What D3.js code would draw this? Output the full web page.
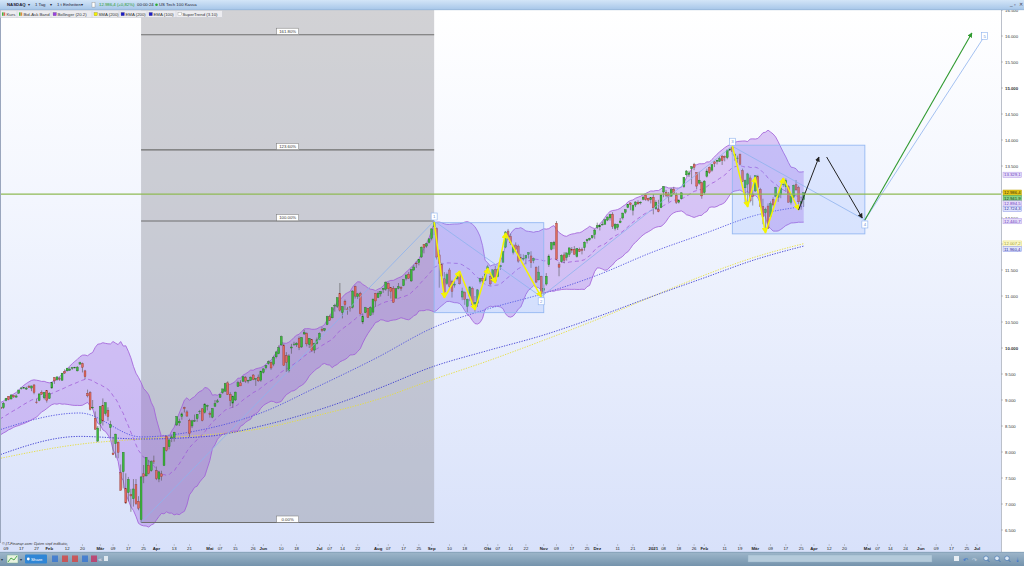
<!DOCTYPE html>
<html><head><meta charset="utf-8">
<script src="https://cdn.jsdelivr.net/npm/d3@7/dist/d3.min.js"></script>
<style>html,body{margin:0;padding:0;background:#fff;overflow:hidden}svg{display:block;font-family:"Liberation Sans",Arial,sans-serif}</style>
</head><body><svg id="c" width="1024" height="566"></svg>
<script>
// ================= DATA =================
const startDate = "2020-01-02";
const endDate = "2021-07-30";
const closedDays = ["2020-01-01","2020-04-10","2020-12-25","2021-01-01","2021-04-02"];
// closes Dec 3-31 2019 (for the 20-day Bollinger window)
const preCloses = [8255,8303,8313,8397,8369,8381,8412,8462,8494,8575,8571,8572,8632,8678,8700,8700,8780,8770,8709,8733];
// daily candles [open, high, low, close] from 2020-01-02 to 2021-03-26
const ohlc = [
// Jan 2020
[8800,8873,8788,8872],[8762,8830,8758,8793],[8747,8849,8738,8848],[8853,8873,8828,8846],[8850,8960,8830,8935],[8990,9040,8975,9030],[9070,9075,8995,9006],[9020,9098,9010,9098],[9085,9100,9040,9059],[9055,9110,9050,9078],[9130,9193,9120,9192],[9220,9235,9200,9233],[9233,9250,9215,9240],[9210,9255,9195,9230],[9260,9290,9235,9242],[9230,9275,9170,9270],[9290,9300,9110,9145],[8960,9020,8930,8953],[8990,9130,8975,9116],[9150,9185,9100,9111],[9040,9150,9010,9146],[9180,9190,8950,8991],
// Feb
[9030,9150,9020,9126],[9230,9340,9220,9335],[9430,9440,9310,9368],[9390,9446,9370,9445],[9410,9440,9370,9401],[9380,9517,9370,9517],[9550,9590,9500,9518],[9560,9615,9550,9613],[9570,9630,9560,9595],[9610,9630,9580,9623],[9623,9640,9600,9630],[9560,9650,9550,9633],[9690,9736,9680,9718],[9700,9720,9530,9629],[9560,9580,9400,9447],[9130,9200,9050,9079],[9140,9170,8800,8822],[8860,9000,8820,8860],[8650,8780,8430,8436],[8210,8500,8190,8461],
// Mar
[8550,8880,8400,8877],[8900,9030,8510,8596],[8740,8950,8700,8950],[8800,8860,8600,8681],[8470,8600,8290,8530],[7980,8290,7940,7948],[8160,8350,7890,8344],[8190,8200,7880,7993],[7600,7760,7260,7262],[7620,7995,7300,7995],[7300,7590,7000,7020],[7220,7520,7050,7472],[7180,7290,6850,7155],[7100,7480,6950,7289],[7370,7480,6980,7006],[7050,7150,6880,6920],[6700,7540,6644,7520],[7580,7750,7400,7528],[7540,7900,7530,7897],[7740,7850,7570,7589],[7640,7840,7620,7814],[7830,7930,7770,7813],
// Apr
[7640,7720,7460,7487],[7480,7640,7420,7617],[7580,7640,7450,7528],[7740,8090,7730,8081],[8300,8320,8010,8029],[8100,8240,8050,8233],[8270,8330,8190,8291],[8280,8390,8200,8381],[8520,8690,8500,8680],[8560,8640,8500,8592],[8680,8760,8620,8733],[8850,8870,8760,8833],[8770,8800,8680,8691],[8610,8640,8290,8354],[8500,8620,8460,8599],[8600,8720,8580,8602],[8640,8730,8580,8725],[8780,8810,8730,8785],[8830,8840,8590,8605],[8760,8940,8740,8921],[8890,8910,8800,8890],
// May
[8740,8780,8660,8719],[8670,8840,8650,8834],[8880,9000,8870,8930],[8960,9020,8950,8984],[9050,9110,9040,9101],[9140,9215,9120,9213],[9170,9330,9160,9317],[9330,9360,9100,9104],[9110,9150,8880,8986],[8940,9080,8850,9075],[9000,9160,8980,9152],[9260,9370,9250,9331],[9330,9380,9270,9271],[9360,9450,9350,9446],[9430,9460,9330,9363],[9370,9390,9320,9376],[9376,9450,9370,9440],[9480,9500,9380,9392],[9400,9420,9270,9412],[9440,9490,9350,9368],[9380,9560,9350,9556],
// Jun
[9530,9610,9510,9598],[9620,9665,9590,9664],[9700,9760,9680,9735],[9720,9740,9580,9616],[9690,9850,9650,9824],[9830,9925,9800,9925],[9890,10050,9880,10007],[10060,10240,10040,10220],[10050,10080,9660,9662],[9850,9920,9540,9725],[9560,9880,9530,9847],[10000,10080,9890,10019],[10070,10120,10040,10075],[10060,10110,10020,10094],[10180,10220,9960,10009],[10020,10210,10000,10200],[10270,10350,10250,10298],[10280,10300,10030,10079],[10070,10190,10000,10185],[10160,10170,9930,9950],[9960,10100,9900,10093],[10090,10200,10070,10156],
// Jul
[10160,10300,10150,10279],[10360,10400,10310,10341],[10341,10380,10320,10370],[10450,10620,10440,10605],[10600,10640,10520,10534],[10580,10780,10570,10774],[10810,10850,10700,10818],[10800,10970,10770,10968],[11050,11250,10700,10725],[10680,10800,10570,10796],[10900,10930,10730,10834],[10750,10790,10640,10741],[10790,10800,10700,10768],[10780,11110,10760,11095],[11180,11200,10950,10998],[10990,11060,10940,11041],[11050,11080,10640,10658],[10500,10660,10460,10605],[10680,10790,10670,10774],[10760,10770,10580,10588],[10630,10800,10620,10773],[10690,10950,10640,10940],[11050,11060,10790,10905],
// Aug
[10970,11090,10960,11055],[11040,11090,10990,11085],[11130,11150,11060,11146],[11130,11280,11100,11267],[11240,11260,11000,11139],[11160,11170,10950,11083],[11150,11190,10870,10880],[10960,11150,10950,11138],[11150,11250,11130,11178],[11160,11190,11100,11149],[11200,11320,11190,11315],[11340,11410,11300,11404],[11420,11460,11330,11341],[11290,11520,11270,11505],[11500,11600,11480,11558],[11630,11660,11540,11625],[11640,11710,11590,11708],[11750,11950,11730,11940],[11990,12000,11820,11937],[11960,12020,11930,12004],[12030,12110,12010,12098],
// Sep
[12110,12300,12070,12290],[12330,12442,12170,12420],[12300,12320,11700,11749],[11790,11890,11160,11628],[11600,11640,11330,11380],[11330,11460,10970,11068],[11240,11450,11210,11410],[11500,11540,11150,11188],[11280,11310,10970,11087],[11210,11290,11160,11230],[11330,11440,11300,11386],[11450,11480,11220,11234],[10980,11160,10920,11095],[11070,11090,10830,10936],[10800,10950,10680,10934],[10990,11180,10900,11176],[11150,11180,10810,10834],[10770,11000,10700,10876],[10860,11130,10790,11118],[11280,11350,11240,11335],[11340,11380,11250,11290],[11300,11500,11290,11418],
// Oct
[11520,11600,11470,11560],[11380,11450,11200,11231],[11290,11510,11280,11503],[11510,11580,11260,11277],[11370,11530,11360,11517],[11560,11600,11500,11585],[11650,11860,11640,11852],[11940,12250,11920,12231],[12250,12290,12080,12141],[12150,12200,11980,12022],[11840,11990,11800,11946],[11980,12030,11890,11895],[11960,11990,11640,11671],[11740,11810,11680,11720],[11710,11800,11680,11724],[11730,11790,11610,11779],[11800,11840,11720,11835],[11770,11860,11540,11639],[11680,11740,11630,11720],[11550,11570,11250,11268],[11310,11580,11300,11460],[11380,11390,11000,11053],
// Nov
[11110,11220,11020,11145],[11230,11440,11200,11380],[11600,11800,11560,11768],[11900,12040,11880,12024],[11980,12060,11900,12033],[12400,12440,11690,11708],[11600,11650,11380,11554],[11660,11800,11640,11781],[11790,11840,11630,11688],[11740,11830,11680,11829],[11800,11930,11750,11925],[11900,11940,11830,11876],[11900,11960,11800,11802],[11760,11920,11740,11913],[11900,11930,11850,11855],[11890,11930,11800,11885],[11930,12050,11870,12035],[12060,12100,12010,12082],[12082,12120,12060,12110],[12120,12170,12100,12158],[12180,12290,12100,12268],
// Dec
[12320,12410,12290,12355],[12330,12370,12260,12355],[12370,12430,12360,12377],[12380,12470,12370,12465],[12460,12530,12440,12519],[12500,12580,12450,12566],[12570,12610,12290,12339],[12300,12400,12260,12377],[12320,12390,12270,12376],[12410,12500,12400,12441],[12500,12600,12470,12595],[12610,12670,12580,12658],[12700,12770,12690,12764],[12790,12800,12650,12755],[12650,12760,12550,12742],[12750,12820,12710,12808],[12800,12840,12760,12771],[12790,12820,12760,12805],[12860,12930,12840,12900],[12940,12960,12830,12850],[12880,12890,12820,12845],[12850,12900,12780,12888],
// Jan 2021
[12900,12960,12570,12694],[12680,12840,12660,12802],[12660,12850,12610,12624],[12700,12960,12690,12940],[13000,13110,12900,13105],[12990,13040,12900,12939],[12950,13000,12810,12913],[12920,13080,12910,13043],[13050,13100,12960,12974],[12930,12990,12770,12804],[12804,12860,12780,12840],[12870,12990,12860,12984],[13100,13290,13080,13280],[13330,13420,13300,13404],[13340,13410,13290,13366],[13450,13500,13150,13485],[13530,13560,13420,13475],[13370,13380,13050,13114],[13170,13390,13140,13228],[13180,13200,12870,12925],
// Feb 2021
[12990,13230,12950,13209],[13300,13450,13280,13404],[13470,13490,13350,13373],[13420,13530,13390,13526],[13580,13590,13480,13543],[13590,13620,13530,13612],[13590,13680,13580,13639],[13690,13710,13520,13602],[13680,13700,13590,13679],[13660,13810,13630,13807],[13807,13850,13790,13830],[13850,13880,13720,13776],[13690,13740,13600,13728],[13650,13700,13560,13653],[13720,13740,13510,13535],[13410,13450,13190,13196],[13080,13240,12780,13223],[13150,13370,12710,13348],[13270,13320,12800,12828],[12960,13040,12740,12910],
// Mar 2021
[13020,13320,13000,13315],[13300,13330,13070,13084],[13050,13080,12710,12720],[12720,12870,12380,12523],[12600,12700,12210,12668],[12730,12780,12290,12299],[12530,12820,12500,12773],[12860,12900,12720,12751],[12920,13100,12900,13085],[12900,12950,12810,12935],[12950,13090,12880,13079],[13150,13270,13100,13152],[13100,13260,13000,13224],[13100,13130,12800,12802],[12800,12950,12760,12911],[12900,13140,12880,13130],[13140,13230,13020,13041],[13090,13120,12650,12811],[12780,12900,12660,12813],[12850,12990,12720,12986]
];
// moving averages (sparse)
const maDates = ["2020-01-02","2020-02-19","2020-03-24","2020-04-30","2020-05-29","2020-06-30","2020-07-31","2020-09-02","2020-10-01","2020-11-02","2020-12-01","2021-01-04","2021-02-01","2021-03-01","2021-03-26"];
const ema100 = [8385,8750,8290,8450,8750,9250,9800,10400,10750,11050,11400,11850,12200,12550,12724];
const ema200 = [7900,8300,8250,8300,8500,8800,9200,9650,9950,10250,10600,11000,11350,11700,11960];
const sma200 = [7850,8150,8250,8330,8450,8700,9000,9400,9750,10150,10550,11000,11400,11750,12007];
// Fibonacci extension
const fibLowDate = "2020-03-24", fibLow = 6644, fibHighDate = "2020-09-02", fibHigh = 12442;
const fibLevels = [0, 1, 1.236, 1.618];
const fibLabels = ["0.00%","100.00%","123.60%","161.80%"];
// wave count points
const waveDates = ["2020-03-24","2020-09-02","2020-10-30","2021-02-16","2021-04-30","2021-07-06"];
const wavePrices = [6644,12442,10985,13880,12462,16000];
const waveLabels = ["","1","2","3","4","5"];
const waveLabelPos = ["","above","below","above","below","center"];
// rectangles
const boxStart = ["2020-09-02","2021-02-16"], boxEnd = ["2020-11-02","2021-04-30"];
const boxTop = [12410,13900], boxBottom = [10680,12195];
// yellow zigzags
const zigADates = ["2020-09-02","2020-09-08","2020-09-16","2020-09-24","2020-10-01","2020-10-06","2020-10-12","2020-10-30"];
const zigAPrices = [12420,10962,11481,10731,11538,11250,12212,10981];
const zigBDates = ["2021-02-16","2021-02-24","2021-03-01","2021-03-05","2021-03-16","2021-03-24"];
const zigBPrices = [13885,12711,13288,12211,13269,12654];
// projected arrows
const blackArrowDates = [["2021-03-24","2021-04-06"],["2021-04-09","2021-04-29"]];
const blackArrowPrices = [[12654,13673],[13673,12500]];
const greenArrowDates = ["2021-04-30","2021-06-29"], greenArrowPrices = [12462,16058];
const bidAsk = 12960;
// right-side value labels
const rightLabelValues = [13329.1,12986.4,12941.9,12894.5,12724.3,12440.7,12007.2,11960.4];
const rightLabelKinds = ["bb","kurs","bid","bb","ema","bb","sma","ema"];
// axis ticks
const yTicks = [6500,7000,7500,8000,8500,9000,9500,10000,10500,11000,11500,12000,12500,13000,13500,14000,14500,15000,15500,16000,16500];
const yBold = [10000,15000];
const xTickDates = ["2020-01-09","2020-01-17","2020-01-27","2020-02-03","2020-02-12","2020-02-20","2020-03-02","2020-03-09","2020-03-17","2020-03-25","2020-04-01","2020-04-13","2020-04-21","2020-05-01","2020-05-07","2020-05-15","2020-05-26","2020-06-01","2020-06-10","2020-06-18","2020-07-01","2020-07-07","2020-07-14","2020-07-22","2020-08-03","2020-08-07","2020-08-17","2020-08-25","2020-09-01","2020-09-10","2020-09-18","2020-10-01","2020-10-07","2020-10-14","2020-10-22","2020-11-02","2020-11-09","2020-11-17","2020-11-25","2020-12-01","2020-12-11","2020-12-21","2021-01-04","2021-01-08","2021-01-18","2021-01-26","2021-02-01","2021-02-11","2021-02-19","2021-03-01","2021-03-09","2021-03-17","2021-03-25","2021-04-01","2021-04-12","2021-04-20","2021-05-03","2021-05-07","2021-05-14","2021-05-24","2021-06-01","2021-06-09","2021-06-17","2021-06-25","2021-07-01"];
const xTickLabels = ["09","17","27","Feb","12","20","Mär","09","17","25","Apr","13","21","Mai","07","15","26","Jun","10","18","Jul","07","14","22","Aug","07","17","25","Sep","10","18","Okt","07","14","22","Nov","09","17","25","Dez","11","21","2021","08","18","26","Feb","11","19","Mär","09","17","25","Apr","12","20","Mai","07","14","24","Jun","09","17","25","Jul"];
const legendNames = ["Kurs","Bid-Ask Band","Bollinger (20.2)","SMA (200)","EMA (200)","EMA (100)","SuperTrend (3.10)"];

// ================= BUILD =================
const parse = d3.utcParse("%Y-%m-%d"), fmtD = d3.utcFormat("%Y-%m-%d");
const calendar = d3.utcDay.range(parse(startDate), d3.utcDay.offset(parse(endDate),1))
  .filter(d => d.getUTCDay()>0 && d.getUTCDay()<6 && !closedDays.includes(fmtD(d))).map(fmtD);
const idxOf = new Map(calendar.map((s,i)=>[s,i]));
const I = s => idxOf.get(s);

const svg = d3.select("#c");
const P = {l:0, r:1001, t:10, b:543};
const x = d3.scaleLinear().domain([I("2020-01-09"), I("2021-07-01")]).range([6, 977]);
const y = d3.scaleLinear().domain([6500,16500]).range([530,10]);
const de = d3.formatLocale({decimal:",", thousands:".", grouping:[3], currency:["","€"]});
const fTick = de.format(",.0f"), fVal = de.format(",.1f");
const FS = 4.3;

const defs = svg.append("defs");
const bgG = defs.append("linearGradient").attr("id","bg").attr("x1",0).attr("y1",0).attr("x2",0).attr("y2",1);
bgG.append("stop").attr("offset","0").attr("stop-color","#ffffff");
bgG.append("stop").attr("offset","0.35").attr("stop-color","#f3f6fe");
bgG.append("stop").attr("offset","1").attr("stop-color","#d8e1fa");
const tbG = defs.append("linearGradient").attr("id","tb").attr("x1",0).attr("y1",0).attr("x2",0).attr("y2",1);
tbG.append("stop").attr("offset","0").attr("stop-color","#d3e5f7");
tbG.append("stop").attr("offset","1").attr("stop-color","#a5c5e8");
const btG = defs.append("linearGradient").attr("id","bt").attr("x1",0).attr("y1",0).attr("x2",0).attr("y2",1);
btG.append("stop").attr("offset","0").attr("stop-color","#9fb7cb");
btG.append("stop").attr("offset","1").attr("stop-color","#7493ac");
defs.append("clipPath").attr("id","clip").append("rect").attr("x",P.l).attr("y",P.t).attr("width",P.r-P.l).attr("height",P.b-P.t);
function marker(id, color, size){
  defs.append("marker").attr("id",id).attr("viewBox","0 0 10 10").attr("refX",9).attr("refY",5)
    .attr("markerUnits","userSpaceOnUse").attr("markerWidth",size).attr("markerHeight",size).attr("orient","auto")
    .append("path").attr("d","M0,0 L10,5 L0,10 z").attr("fill",color);
}
marker("mY","#f4f400",6); marker("mK","#222222",5); marker("mG","#2f9a2f",5);

svg.append("rect").attr("width",1024).attr("height",566).attr("fill","#ffffff");
svg.append("rect").attr("x",0).attr("y",P.t).attr("width",P.r).attr("height",552-P.t).attr("fill","url(#bg)");

const plot = svg.append("g").attr("clip-path","url(#clip)");

// Fibonacci shaded zone
const fx0 = x(I(fibLowDate)), fx1 = x(I(fibHighDate));
const fibY = fibLevels.map(l => y(fibLow + l*(fibHigh-fibLow)));
plot.append("rect").attr("x",fx0).attr("y",P.t).attr("width",fx1-fx0).attr("height",fibY[0]-P.t)
  .attr("fill","rgb(130,130,138)").attr("fill-opacity",0.36);

// Bollinger bands computed from closes
const closesAll = preCloses.concat(ohlc.map(r=>r[3]));
const bb = ohlc.map((r,i)=>{
  const j = i + preCloses.length; const w = closesAll.slice(j-19, j+1);
  const m = d3.mean(w); const s = Math.sqrt(d3.mean(w, v => (v-m)*(v-m)));
  return {i, m, u:m+2*s, l:m-2*s};
});
plot.append("path").datum(bb).attr("d", d3.area().x(d=>x(d.i)).y0(d=>y(d.l)).y1(d=>y(d.u)))
  .attr("fill","rgb(150,80,225)").attr("fill-opacity",0.3);

// moving averages
const maLine = d3.line().x(d=>x(I(d[0]))).y(d=>y(d[1])).curve(d3.curveMonotoneX);
[[sma200,"#e6de3a"],[ema200,"#3a3ad0"],[ema100,"#5050e0"]].forEach(([arr,col])=>{
  plot.append("path").datum(maDates.map((d,k)=>[d,arr[k]])).attr("d",maLine)
    .attr("fill","none").attr("stroke",col).attr("stroke-width",0.9).attr("stroke-dasharray","1.3,1.3");
});

// Bollinger borders + middle
plot.append("path").datum(bb).attr("d", d3.line().x(d=>x(d.i)).y(d=>y(d.u))).attr("fill","none").attr("stroke","#a05cd8").attr("stroke-width",0.8);
plot.append("path").datum(bb).attr("d", d3.line().x(d=>x(d.i)).y(d=>y(d.l))).attr("fill","none").attr("stroke","#a05cd8").attr("stroke-width",0.8);
plot.append("path").datum(bb).attr("d", d3.line().x(d=>x(d.i)).y(d=>y(d.m))).attr("fill","none").attr("stroke","#a05cd8").attr("stroke-width",0.8).attr("stroke-dasharray","4,3");

// candles
const cg = plot.append("g");
ohlc.forEach((r,i)=>{
  const [o,h,l,c] = r; const cx = x(i); const up = c >= o;
  cg.append("line").attr("x1",cx).attr("x2",cx).attr("y1",y(h)).attr("y2",y(l)).attr("stroke","#555").attr("stroke-width",0.6);
  const top = y(Math.max(o,c)), bot = y(Math.min(o,c));
  cg.append("rect").attr("x",cx-0.95).attr("y",top).attr("width",1.9).attr("height",Math.max(0.6,bot-top))
    .attr("fill", up ? "#3cb83c" : "#e06a5e").attr("stroke", up ? "#1f6d1f" : "#8a3028").attr("stroke-width",0.35);
});

// Fibonacci lines + labels
fibY.forEach((fy,k)=>{
  plot.append("line").attr("x1",fx0).attr("x2",fx1).attr("y1",fy).attr("y2",fy).attr("stroke","#6e6e6e").attr("stroke-width",1.1);
  const cx = (fx0+fx1)/2;
  plot.append("rect").attr("x",cx-11).attr("y",fy-6.5).attr("width",22).attr("height",6.3).attr("fill","#fff").attr("stroke","#777").attr("stroke-width",0.5);
  plot.append("text").attr("x",cx).attr("y",fy-2).attr("text-anchor","middle").attr("font-size",FS).attr("fill","#333").text(fibLabels[k]);
});

// boxes
boxStart.forEach((s,k)=>{
  const x0 = x(I(s)), x1 = x(I(boxEnd[k]));
  plot.append("rect").attr("x",x0).attr("y",y(boxTop[k])).attr("width",x1-x0).attr("height",y(boxBottom[k])-y(boxTop[k]))
    .attr("fill","rgb(120,160,255)").attr("fill-opacity",0.2).attr("stroke","#95b8f2").attr("stroke-width",0.9);
});

// wave connector lines
const wp = waveDates.map((d,k)=>[x(I(d)), y(wavePrices[k])]);
plot.append("path").attr("d", d3.line()(wp)).attr("fill","none").attr("stroke","#8eb2ee").attr("stroke-width",0.8);

// zigzags
function zig(dates, prices){
  const pts = dates.map((d,k)=>[x(I(d)), y(prices[k])]);
  for (let k=1;k<pts.length;k++){
    plot.append("line").attr("x1",pts[k-1][0]).attr("y1",pts[k-1][1]).attr("x2",pts[k][0]).attr("y2",pts[k][1])
      .attr("stroke","#f4f400").attr("stroke-width",1.5).attr("marker-end","url(#mY)");
  }
}
zig(zigADates, zigAPrices); zig(zigBDates, zigBPrices);
blackArrowDates.forEach((ds,k)=>{
  plot.append("line").attr("x1",x(I(ds[0]))).attr("y1",y(blackArrowPrices[k][0])).attr("x2",x(I(ds[1]))).attr("y2",y(blackArrowPrices[k][1]))
    .attr("stroke","#222").attr("stroke-width",1).attr("marker-end","url(#mK)");
});
plot.append("line").attr("x1",x(I(greenArrowDates[0]))).attr("y1",y(greenArrowPrices[0])).attr("x2",x(I(greenArrowDates[1]))).attr("y2",y(greenArrowPrices[1]))
  .attr("stroke","#2f9a2f").attr("stroke-width",1.1).attr("marker-end","url(#mG)");

// bid-ask horizontal line
plot.append("line").attr("x1",P.l).attr("x2",P.r).attr("y1",y(bidAsk)).attr("y2",y(bidAsk)).attr("stroke","#8fba55").attr("stroke-width",1.1);

// wave labels
wp.forEach((p,k)=>{
  if (!waveLabels[k]) return;
  const pos = waveLabelPos[k];
  const cy = pos==="above" ? p[1]-4.5 : pos==="below" ? p[1]+4.5 : p[1];
  plot.append("rect").attr("x",p[0]-3).attr("y",cy-3.5).attr("width",6).attr("height",7).attr("fill","#fff").attr("stroke","#8eb2ee").attr("stroke-width",0.6);
  plot.append("text").attr("x",p[0]).attr("y",cy+1.6).attr("text-anchor","middle").attr("font-size",FS).attr("fill","#6a90d8").text(waveLabels[k]);
});

// left border
svg.append("line").attr("x1",0.5).attr("x2",0.5).attr("y1",P.t).attr("y2",P.b).attr("stroke","#9aa6bd").attr("stroke-width",1);

// right axis
svg.append("rect").attr("x",P.r).attr("y",P.t).attr("width",1024-P.r).attr("height",552-P.t).attr("fill","#ffffff");
svg.append("line").attr("x1",P.r+0.5).attr("x2",P.r+0.5).attr("y1",P.t).attr("y2",552).attr("stroke","#aab0bc").attr("stroke-width",0.8);
const styles = {
  bb:{fill:"#e6ddf9",stroke:"#b49ce8",text:"#6a3cc0"},
  kurs:{fill:"#e3c41a",stroke:"#b89c00",text:"#3a3000"},
  bid:{fill:"#86d386",stroke:"#4aa04a",text:"#143814"},
  ema:{fill:"#dfe3fb",stroke:"#8c96e6",text:"#2a2aa0"},
  sma:{fill:"#fbf8cc",stroke:"#e4dc70",text:"#a09820"}
};
const labs = rightLabelValues.map((v,k)=>({v, kind:rightLabelKinds[k], yy:y(v)})).sort((a,b)=>a.yy-b.yy);
for (let k=1;k<labs.length;k++) if (labs[k].yy < labs[k-1].yy+5.4) labs[k].yy = labs[k-1].yy+5.4;
yTicks.forEach(v=>{
  svg.append("line").attr("x1",P.r).attr("x2",P.r+2).attr("y1",y(v)).attr("y2",y(v)).attr("stroke","#888").attr("stroke-width",0.5);
  // tick labels hidden behind a value label are not shown (as in the reference)
  if (labs.some(l => Math.abs(l.yy - y(v)) < 2.7)) return;
  svg.append("text").attr("x",1005).attr("y",y(v)+1.5).attr("font-size",FS).attr("fill","#333")
    .attr("font-weight", yBold.includes(v) ? "bold" : "normal").text(fTick(v));
});
labs.forEach(l=>{
  const s = styles[l.kind];
  svg.append("rect").attr("x",1003).attr("y",l.yy-2.7).attr("width",18.5).attr("height",5.4).attr("fill",s.fill).attr("stroke",s.stroke).attr("stroke-width",0.5);
  svg.append("text").attr("x",1004).attr("y",l.yy+1.5).attr("font-size",FS).attr("fill",s.text).text(fVal(l.v));
});

// x axis
xTickDates.forEach((d,k)=>{
  const tx = x(I(d));
  svg.append("line").attr("x1",tx).attr("x2",tx).attr("y1",544).attr("y2",546).attr("stroke","#999").attr("stroke-width",0.5);
  const bold = isNaN(+xTickLabels[k]) || xTickLabels[k].length===4;
  svg.append("text").attr("x",tx).attr("y",550.3).attr("text-anchor","middle").attr("font-size",FS)
    .attr("font-weight", bold ? "bold" : "normal").attr("fill","#222").text(xTickLabels[k]);
});
svg.append("text").attr("x",2).attr("y",545).attr("font-size",3.8).attr("font-style","italic").attr("fill","#333").text("© IT-Finance.com: Daten sind indikativ");

// top toolbar
svg.append("rect").attr("x",0).attr("y",0).attr("width",1024).attr("height",10).attr("fill","url(#tb)");
const tb = svg.append("g").attr("font-size",FS).attr("fill","#223");
[["NASDAQ",7,"bold"],["▾",28,"normal"],["1 Tag",35,"normal"],["▾",50,"normal"],["1 t Einheiten",57,"normal"],["▾",81,"normal"]].forEach(([t,tx,w])=>{
  tb.append("text").attr("x",tx).attr("y",6.3).attr("font-weight",w).text(t);
});
svg.append("rect").attr("x",92).attr("y",2.3).attr("width",3).attr("height",4.8).attr("fill","#fff").attr("stroke","#888").attr("stroke-width",0.4);
svg.append("text").attr("x",99).attr("y",6.3).attr("font-size",FS).attr("fill","#2a9a2a").text("12.986,4 (+0,82%)");
svg.append("text").attr("x",137).attr("y",6.3).attr("font-size",FS).attr("fill","#223").text("00:00:24");
svg.append("circle").attr("cx",156.5).attr("cy",4.8).attr("r",1.3).attr("fill","#2eaa2e");
svg.append("text").attr("x",159).attr("y",6.3).attr("font-size",FS).attr("fill","#223").text("US Tech 100 Kassa");
[["_",1010],["▫",1014],["✕",1018.5]].forEach(([t,tx])=>svg.append("text").attr("x",tx).attr("y",6.3).attr("font-size",FS+0.5).attr("fill","#445").text(t));
svg.append("line").attr("x1",0).attr("x2",1024).attr("y1",9.75).attr("y2",9.75).attr("stroke","#8aa9cc").attr("stroke-width",0.5);

// legend row
svg.append("rect").attr("x",0.5).attr("y",10.5).attr("width",222).attr("height",7).attr("fill","#ececf0").attr("stroke","#c4c6ce").attr("stroke-width",0.5);
const legSw = [["#3cb83c","#e06a5e"],["#3cb83c","#e08a3e"],["#9b3fe0"],["#f4f000"],["#1a1ac8"],["#1a1ac8"],["#ffffff"]];
const legX = [2,19,53,94,121,149,178];
legendNames.forEach((n,k)=>{
  const sx = legX[k], cols = legSw[k];
  if (cols.length===2){
    svg.append("rect").attr("x",sx).attr("y",12.4).attr("width",1.6).attr("height",3.4).attr("fill",cols[0]);
    svg.append("rect").attr("x",sx+1.6).attr("y",12.4).attr("width",1.6).attr("height",3.4).attr("fill",cols[1]);
  } else {
    svg.append("rect").attr("x",sx).attr("y",12.4).attr("width",3.4).attr("height",3.4).attr("fill",cols[0]).attr("stroke","#777").attr("stroke-width",0.3);
  }
  svg.append("text").attr("x",sx+4.5).attr("y",15.6).attr("font-size",FS).attr("fill","#333").text(n);
  if (k>0) svg.append("line").attr("x1",sx-2).attr("x2",sx-2).attr("y1",11).attr("y2",17.5).attr("stroke","#c4c6ce").attr("stroke-width",0.4);
});

// bottom toolbar
svg.append("rect").attr("x",0).attr("y",552).attr("width",1024).attr("height",14).attr("fill","url(#bt)");
svg.append("line").attr("x1",0).attr("x2",1024).attr("y1",552.25).attr("y2",552.25).attr("stroke","#6d8aa3").attr("stroke-width",0.5);
const bt = svg.append("g");
bt.append("text").attr("x",1).attr("y",561).attr("font-size",4).attr("fill","#234").text("▾");
bt.append("rect").attr("x",7).attr("y",555).attr("width",11).attr("height",8).attr("fill","#e8f2e0").attr("stroke","#6a8").attr("stroke-width",0.4);
bt.append("path").attr("d","M8,562 L11,558 L14,560 L17,556").attr("fill","none").attr("stroke","#2a9a2a").attr("stroke-width",0.8);
bt.append("text").attr("x",20).attr("y",561).attr("font-size",4).attr("fill","#234").text("▾");
bt.append("rect").attr("x",25).attr("y",554.5).attr("width",22).attr("height",9).attr("rx",1).attr("fill","#2f86d6");
bt.append("text").attr("x",31).attr("y",560.8).attr("font-size",4.3).attr("fill","#fff").text("Share");
bt.append("circle").attr("cx",28.3).attr("cy",559).attr("r",1.4).attr("fill","#fff");
[["#3b78d0",52],["#d04a4a",62],["#d04a4a",72],["#3b78d0",82],["#c03a6a",91]].forEach(([c,bx])=>{
  bt.append("rect").attr("x",bx).attr("y",555.5).attr("width",6).attr("height",6.5).attr("fill",c).attr("opacity",0.85);
});
bt.append("text").attr("x",98).attr("y",561).attr("font-size",4).attr("fill","#dde").text("≪");
bt.append("rect").attr("x",104).attr("y",556).attr("width",4).attr("height",5).attr("fill","#dfe8f0");
bt.append("rect").attr("x",748).attr("y",555).attr("width",184).attr("height",7).attr("fill","#b5cbdb").attr("stroke","#93aec3").attr("stroke-width",0.4);
bt.append("rect").attr("x",954).attr("y",556).attr("width",5).attr("height",5).attr("fill","#e8eef4");
bt.append("text").attr("x",963).attr("y",561.5).attr("font-size",6).attr("fill","#2f6fd0").text("↶");
bt.append("text").attr("x",972).attr("y",561.5).attr("font-size",6).attr("fill","#c8d6e2").text("↷");
[983,994,1004].forEach(bx=>{
  bt.append("circle").attr("cx",bx+3).attr("cy",558.3).attr("r",2.3).attr("fill","#dbe7f2").attr("stroke","#3b6fb0").attr("stroke-width",0.6);
  bt.append("line").attr("x1",bx+4.6).attr("y1",560).attr("x2",bx+6.5).attr("y2",562).attr("stroke","#3b6fb0").attr("stroke-width",0.8);
});
bt.append("text").attr("x",1015).attr("y",561.5).attr("font-size",6).attr("fill","#2f6fd0").text("⇣");
</script></body></html>
